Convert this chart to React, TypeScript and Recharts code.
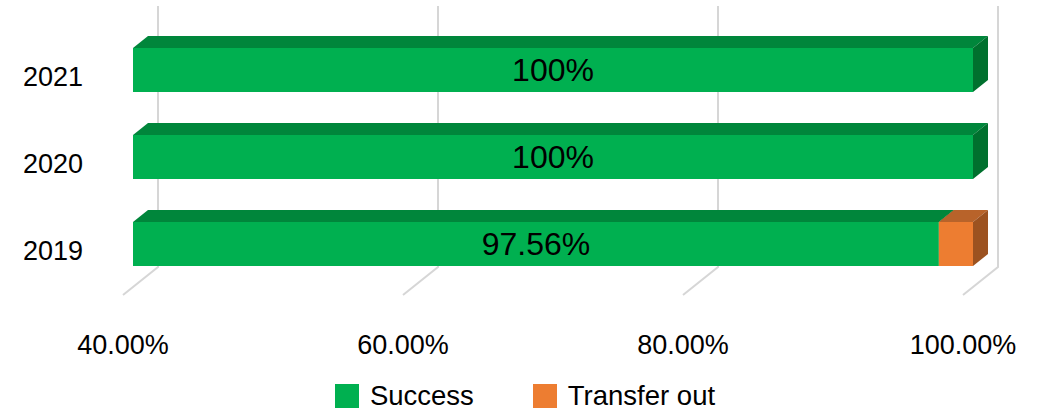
import React from 'react';
import { BarChart, Bar, XAxis, YAxis, CartesianGrid, Legend, LabelList } from 'recharts';

const years = ['2021', '2020', '2019'];
const success = [100, 100, 97.56];
const transferOut = [0, 0, 2.44];
const xTicks = [40, 60, 80, 100];

const data = years.map((y, i) => ({ year: y, success: success[i], transfer: transferOut[i] }));

const FONT = '"Liberation Sans", Arial, sans-serif';
const GREEN = { front: '#00B050', top: '#00863B', side: '#00702E' };
const ORANGE = { front: '#ED7D31', top: '#B8632A', side: '#9C5220' };

// 3D geometry (px): bar front face sits 10px right / 8px up from the floor front plane,
// bar depth is 15px right / 12px up, back wall is 35px right / 28px up.
const BAR_DX = 10, BAR_DY = 8, DEPTH_X = 15, DEPTH_Y = 12, WALL_X = 35, WALL_Y = 28;

const make3D = (c: { front: string; top: string; side: string }) => (props: any) => {
  const { x, y, width, height } = props;
  if (!width || width <= 0.5) return <g />;
  const fx = x + BAR_DX, fy = y - BAR_DY;
  return (
    <g>
      <polygon
        points={`${fx},${fy} ${fx + DEPTH_X},${fy - DEPTH_Y} ${fx + width + DEPTH_X},${fy - DEPTH_Y} ${fx + width},${fy}`}
        fill={c.top}
      />
      <polygon
        points={`${fx + width},${fy} ${fx + width + DEPTH_X},${fy - DEPTH_Y} ${fx + width + DEPTH_X},${fy + height - DEPTH_Y} ${fx + width},${fy + height}`}
        fill={c.side}
      />
      <rect x={fx} y={fy} width={width} height={height} fill={c.front} />
    </g>
  );
};

const gridLine = (props: any) => {
  const { x1, y1, y2, key } = props;
  const x = x1;
  return (
    <polyline
      key={key}
      points={`${x + WALL_X},${y1 - WALL_Y} ${x + WALL_X},${y2 - WALL_Y} ${x},${y2}`}
      fill="none"
      stroke="#D6D6D6"
      strokeWidth={2}
    />
  );
};

const YTick = (props: any) => {
  const { x, y, payload } = props;
  return (
    <text x={x} y={y} dy="0.33em" textAnchor="end" fontSize={27} fontFamily={FONT} fill="#000">
      {payload.value}
    </text>
  );
};

const XTick = (props: any) => {
  const { x, y, payload } = props;
  return (
    <text x={x} y={y + 50} dy="0.35em" textAnchor="middle" fontSize={27} fontFamily={FONT} fill="#000">
      {`${Number(payload.value).toFixed(2)}%`}
    </text>
  );
};

const fmtPct = (v: number) => `${+Number(v).toFixed(2)}%`;

const renderLabel = (props: any) => {
  const vb = props.viewBox || {};
  const x = props.x ?? vb.x;
  const y = props.y ?? vb.y;
  const width = props.width ?? vb.width;
  const height = props.height ?? vb.height;
  if (x == null || width == null) return null;
  return (
    <text
      x={x + BAR_DX + width / 2}
      y={y - BAR_DY + height / 2}
      dy="0.35em"
      textAnchor="middle"
      fontSize={32}
      fontFamily={FONT}
      fill="#000"
    >
      {fmtPct(props.value)}
    </text>
  );
};

const legendItems = [
  { name: 'Success', color: GREEN.front },
  { name: 'Transfer out', color: ORANGE.front },
];

const LegendContent = () => (
  <div
    style={{
      height: 40,
      display: 'flex',
      justifyContent: 'center',
      alignItems: 'center',
      paddingTop: 6,
      paddingLeft: 12,
      boxSizing: 'border-box',
      fontFamily: FONT,
      fontSize: 27.5,
      color: '#000',
    }}
  >
    {legendItems.map((it, i) => (
      <div key={it.name} style={{ display: 'flex', alignItems: 'center', marginLeft: i === 0 ? 0 : 59 }}>
        <div style={{ width: 24, height: 24, background: it.color, marginRight: 11 }} />
        <span style={{ lineHeight: 1 }}>{it.name}</span>
      </div>
    ))}
  </div>
);

export default function App() {
  return (
    <div style={{ position: 'absolute', left: 0, top: 0, width: 1038, height: 413, background: '#fff' }}>
      <style>{`.recharts-bar, .recharts-bar-rectangles, .recharts-label-list { clip-path: none !important; }`}</style>
      <BarChart
        width={1038}
        height={413}
        data={data}
        layout="vertical"
        margin={{ top: 34, right: 75, left: 0, bottom: 0 }}
        barSize={44}
      >
        <CartesianGrid horizontal={false} vertical={gridLine} />
        <XAxis
          type="number"
          domain={[40, 100]}
          ticks={xTicks}
          allowDataOverflow
          axisLine={false}
          tickLine={false}
          tickSize={0}
          tickMargin={0}
          height={78}
          tick={XTick}
          interval={0}
        />
        <YAxis
          type="category"
          dataKey="year"
          width={123}
          axisLine={false}
          tickLine={false}
          tickSize={0}
          tickMargin={40}
          tick={YTick}
        />
        <Legend
          verticalAlign="bottom"
          content={LegendContent}
          wrapperStyle={{ left: 0, width: 1038, height: 40 }}
        />
        <Bar dataKey="success" name="Success" stackId="a" fill={GREEN.front} shape={make3D(GREEN)} isAnimationActive={false}>
          <LabelList dataKey="success" content={renderLabel} />
        </Bar>
        <Bar dataKey="transfer" name="Transfer out" stackId="a" fill={ORANGE.front} shape={make3D(ORANGE)} isAnimationActive={false} />
      </BarChart>
    </div>
  );
}
